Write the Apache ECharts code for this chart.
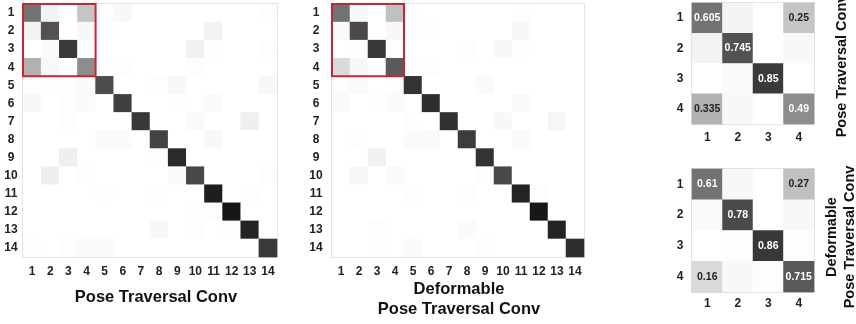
<!DOCTYPE html>
<html>
<head>
<meta charset="utf-8">
<script src="https://cdn.jsdelivr.net/npm/echarts@6/dist/echarts.min.js"></script>
<style>
  html, body { margin: 0; padding: 0; background: #fff; overflow: hidden; }
  #chart { width: 856px; height: 324px; }
</style>
</head>
<body>
<div id="chart"></div>
<script>
const classes14 = ['1','2','3','4','5','6','7','8','9','10','11','12','13','14'];
const classes4 = ['1','2','3','4'];

// rows = ground truth, cols = prediction
const poseConvRows = [
  [0.605,0.05,0,0.25,0.01,0.03,0,0,0,0,0,0,0,0.01],
  [0.05,0.745,0,0.03,0.01,0,0,0,0,0,0.05,0,0,0],
  [0,0.02,0.85,0,0,0,0,0,0,0.06,0.01,0,0,0.01],
  [0.335,0.03,0,0.49,0.01,0.01,0,0,0,0.01,0,0,0,0],
  [0.01,0.01,0.01,0.02,0.77,0,0,0.01,0.03,0,0,0,0,0.03],
  [0.03,0,0.01,0.02,0,0.83,0,0,0.01,0,0.02,0,0,0],
  [0,0,0.01,0,0,0,0.86,0,0,0.02,0,0,0.07,0],
  [0,0,0,0,0.02,0.02,0,0.81,0,0,0.03,0,0,0],
  [0,0,0.07,0,0,0,0,0.01,0.92,0,0,0,0,0],
  [0,0.07,0,0.01,0,0,0,0,0.02,0.79,0,0,0,0.01],
  [0,0,0,0,0.01,0,0,0.01,0,0,0.97,0,0.01,0],
  [0,0,0,0,0,0,0,0,0,0.01,0.01,1.0,0,0],
  [0,0,0,0,0,0,0,0.03,0,0.01,0,0.01,0.94,0],
  [0.01,0,0.01,0.02,0.02,0,0,0,0,0,0,0,0,0.85]
];

const deformRows = [
  [0.61,0.03,0,0.27,0.01,0,0,0,0,0,0.01,0,0,0],
  [0.02,0.78,0,0.03,0.01,0.01,0,0,0,0,0.03,0,0,0],
  [0,0.01,0.86,0.01,0,0,0,0.01,0,0.03,0.01,0,0,0],
  [0.16,0.03,0.01,0.715,0.01,0.01,0,0,0,0,0,0,0,0],
  [0.01,0.02,0,0.01,0.88,0,0,0,0.02,0,0,0,0,0],
  [0.02,0,0.01,0.02,0,0.9,0,0,0,0,0.02,0,0,0],
  [0,0,0,0,0.01,0,0.89,0,0,0.03,0,0,0.04,0],
  [0,0.01,0,0,0.02,0.02,0,0.84,0,0,0.02,0,0,0],
  [0,0,0.06,0,0,0,0,0,0.88,0,0,0,0,0],
  [0,0.04,0,0.02,0,0,0,0,0.01,0.79,0,0,0,0],
  [0,0,0,0,0.01,0,0,0.01,0,0,0.95,0.01,0,0],
  [0,0,0,0,0,0,0,0,0,0,0,1.0,0,0],
  [0,0,0.01,0,0,0,0,0.02,0,0,0,0,0.95,0],
  [0,0,0.01,0,0.02,0,0,0,0.01,0,0,0,0,0.9]
];

const FONT = '"Liberation Sans", Arial, sans-serif';

function toCells(rows, n) {
  const out = [];
  for (let r = 0; r < n; r++) {
    for (let c = 0; c < n; c++) out.push([c, r, rows[r][c]]);
  }
  return out;
}

const chart = echarts.init(document.getElementById('chart'));

const grids = [
  { left: 23, top: 4, width: 254, height: 253 },
  { left: 332, top: 4, width: 252, height: 253 },
  { left: 692, top: 3, width: 122, height: 121 },
  { left: 692, top: 169, width: 122, height: 123 }
];

const yMargins = [12, 16, 12, 12];
const xMargins = [9, 9, 8, 6];

const option = {
  backgroundColor: '#fff',
  animation: false,
  textStyle: { fontFamily: FONT },
  grid: grids.map(g => Object.assign({ show: true, borderColor: '#cfcfcf', borderWidth: 1.5, backgroundColor: '#fff' }, g)),
  xAxis: grids.map((g, i) => ({
    type: 'category',
    gridIndex: i,
    data: i < 2 ? classes14 : classes4,
    axisLine: { show: false },
    axisTick: { show: false },
    splitLine: { show: false },
    axisLabel: { fontSize: 12, fontWeight: 'bold', color: '#222', margin: xMargins[i], interval: 0, fontFamily: FONT }
  })),
  yAxis: grids.map((g, i) => ({
    type: 'category',
    gridIndex: i,
    inverse: true,
    data: i < 2 ? classes14 : classes4,
    axisLine: { show: false },
    axisTick: { show: false },
    splitLine: { show: false },
    axisLabel: { fontSize: 12, fontWeight: 'bold', color: '#222', margin: yMargins[i], align: 'center', interval: 0, fontFamily: FONT }
  })),
  visualMap: {
    show: false,
    min: 0,
    max: 1.1,
    seriesIndex: [0, 1, 2, 3],
    inRange: { color: ['#ffffff', '#000000'] }
  },
  series: [
    { type: 'heatmap', xAxisIndex: 0, yAxisIndex: 0, data: toCells(poseConvRows, 14) },
    { type: 'heatmap', xAxisIndex: 1, yAxisIndex: 1, data: toCells(deformRows, 14) },
    { type: 'heatmap', xAxisIndex: 2, yAxisIndex: 2, data: toCells(poseConvRows, 4) },
    { type: 'heatmap', xAxisIndex: 3, yAxisIndex: 3, data: toCells(deformRows, 4) }
  ].map((s, i) => {
    if (i >= 2) {
      s.label = {
        show: true,
        fontSize: 10.5,
        fontWeight: 'bold',
        fontFamily: FONT,
        formatter: p => p.value[2] >= 0.1 ? String(p.value[2]) : '',
        color: '#222'
      };
      s.data = s.data.map(d => ({
        value: d,
        label: { color: d[2] >= 0.4 ? '#fff' : '#222' }
      }));
    }
    return s;
  })
};

chart.setOption(option);

// red boxes around the 4x4 block, placed through the axes
function blockRect(gi) {
  const a = chart.convertToPixel({ xAxisIndex: gi, yAxisIndex: gi }, ['1', '1']);
  const b = chart.convertToPixel({ xAxisIndex: gi, yAxisIndex: gi }, ['4', '4']);
  const c = chart.convertToPixel({ xAxisIndex: gi, yAxisIndex: gi }, ['2', '2']);
  const cw = c[0] - a[0], ch = c[1] - a[1];
  return {
    type: 'rect',
    shape: { x: a[0] - cw / 2, y: a[1] - ch / 2, width: b[0] - a[0] + cw, height: b[1] - a[1] + ch },
    style: { fill: null, stroke: '#c7282d', lineWidth: 2 },
    z: 100
  };
}

const titleStyle = { fontSize: 16.5, fontWeight: 'bold', fill: '#111', fontFamily: FONT, align: 'center', verticalAlign: 'middle' };

chart.setOption({
  graphic: [
    blockRect(0),
    blockRect(1),
    { type: 'text', x: 156, y: 297, style: Object.assign({ text: 'Pose Traversal Conv' }, titleStyle) },
    { type: 'text', x: 459, y: 299, style: Object.assign({ text: 'Deformable\nPose Traversal Conv', lineHeight: 20 }, titleStyle) },
    { type: 'text', x: 842, y: 66, rotation: Math.PI / 2,
      style: { text: 'Pose Traversal Conv', fontSize: 14.5, fontWeight: 'bold', fill: '#111', fontFamily: FONT, align: 'center', verticalAlign: 'middle' } },
    { type: 'text', x: 841, y: 237, rotation: Math.PI / 2,
      style: { text: 'Deformable\nPose Traversal Conv', lineHeight: 18, fontSize: 14.5, fontWeight: 'bold', fill: '#111', fontFamily: FONT, align: 'center', verticalAlign: 'middle' } }
  ]
});
</script>
</body>
</html>
